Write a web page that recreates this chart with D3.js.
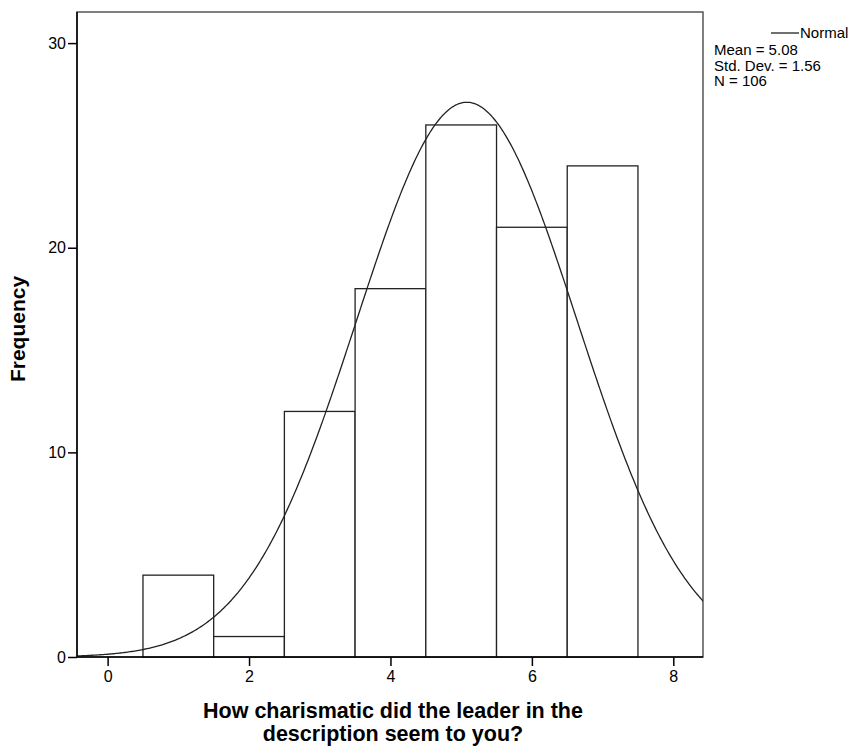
<!DOCTYPE html>
<html>
<head>
<meta charset="utf-8">
<script src="https://cdn.jsdelivr.net/npm/d3@7"></script>
<style>
  body { margin: 0; background: #fff; }
  svg text { font-family: "Liberation Sans", Arial, sans-serif; fill: #000; }
</style>
</head>
<body>
<div id="chart"></div>
<script>
// histogram bins (midpoints) and counts
var binMids = [1, 2, 3, 4, 5, 6, 7];
var counts = [4, 1, 12, 18, 26, 21, 24];
var xTicks = [0, 2, 4, 6, 8];
var yTicks = [0, 10, 20, 30];
// fitted normal, as printed in the legend
var stats = { mean: 5.08, sd: 1.56, n: 106 };
var legendLines = ["Mean = 5.08", "Std. Dev. = 1.56", "N = 106"];

var W = 857, H = 751;
var plot = { left: 77, right: 703, top: 12, bottom: 657 };

var svg = d3.select("#chart").append("svg")
  .attr("width", W).attr("height", H);

var x = d3.scaleLinear().domain([-0.433, 8.42]).range([plot.left, plot.right]);
var y = d3.scaleLinear().domain([0, 31.52]).range([plot.bottom, plot.top]);

// plot frame
svg.append("rect")
  .attr("x", plot.left).attr("y", plot.top)
  .attr("width", plot.right - plot.left).attr("height", plot.bottom - plot.top)
  .attr("fill", "none").attr("stroke", "#555").attr("stroke-width", 1.5);

svg.append("clipPath").attr("id", "clip")
  .append("rect")
  .attr("x", plot.left).attr("y", plot.top)
  .attr("width", plot.right - plot.left).attr("height", plot.bottom - plot.top);

// bars
svg.selectAll(".bar").data(binMids).enter().append("rect")
  .attr("class", "bar")
  .attr("x", function (d) { return x(d - 0.5); })
  .attr("width", function (d) { return x(d + 0.5) - x(d - 0.5); })
  .attr("y", function (d, i) { return y(counts[i]); })
  .attr("height", function (d, i) { return y(0) - y(counts[i]); })
  .attr("fill", "#fff").attr("stroke", "#222").attr("stroke-width", 1.3);

// normal curve scaled to counts (bin width 1)
var curveX = d3.range(-0.5, 8.5 + 1e-9, 0.02);
function normalCount(v) {
  var z = (v - stats.mean) / stats.sd;
  return stats.n * Math.exp(-0.5 * z * z) / (stats.sd * Math.sqrt(2 * Math.PI));
}
svg.append("path")
  .datum(curveX)
  .attr("clip-path", "url(#clip)")
  .attr("fill", "none").attr("stroke", "#222").attr("stroke-width", 1.3)
  .attr("d", d3.line()
    .x(function (d) { return x(d); })
    .y(function (d) { return y(normalCount(d)); }));

// axes
var yAxis = svg.append("g")
  .attr("transform", "translate(" + plot.left + ",0)")
  .call(d3.axisLeft(y).tickValues(yTicks).tickSize(9).tickSizeOuter(0).tickPadding(2));
var xAxis = svg.append("g")
  .attr("transform", "translate(0," + plot.bottom + ")")
  .call(d3.axisBottom(x).tickValues(xTicks).tickSize(9).tickSizeOuter(0).tickPadding(5));

[xAxis, yAxis].forEach(function (g) {
  g.select(".domain").attr("stroke", "#000").attr("stroke-width", 1.5);
  g.selectAll(".tick line").attr("stroke", "#000").attr("stroke-width", 1.5);
  g.selectAll(".tick text").attr("font-size", 16).attr("fill", "#222")
    .style("font-family", "'Liberation Sans', Arial, sans-serif");
});
// keep the axis lines within the plot box
yAxis.select(".domain").attr("d", "M0," + plot.top + "V" + plot.bottom);
xAxis.select(".domain").attr("d", "M" + plot.left + ",0H" + plot.right);

// axis titles
svg.append("text")
  .attr("text-anchor", "middle")
  .attr("font-size", 21).attr("font-weight", "bold")
  .attr("transform", "translate(25,329) rotate(-90)")
  .text("Frequency");

var title = svg.append("text")
  .attr("text-anchor", "middle")
  .attr("font-size", 21.5).attr("font-weight", "bold");
title.append("tspan").attr("x", 393).attr("y", 718).text("How charismatic did the leader in the");
title.append("tspan").attr("x", 393).attr("y", 741).text("description seem to you?");

// legend
svg.append("line")
  .attr("x1", 771).attr("x2", 799).attr("y1", 33).attr("y2", 33)
  .attr("stroke", "#222").attr("stroke-width", 1.3);
svg.append("text").attr("x", 800).attr("y", 38).attr("font-size", 15).text("Normal");
svg.selectAll(".stat").data(legendLines).enter().append("text")
  .attr("class", "stat")
  .attr("x", 714)
  .attr("y", function (d, i) { return 55 + i * 15.5; })
  .attr("font-size", 15)
  .text(function (d) { return d; });
</script>
</body>
</html>
